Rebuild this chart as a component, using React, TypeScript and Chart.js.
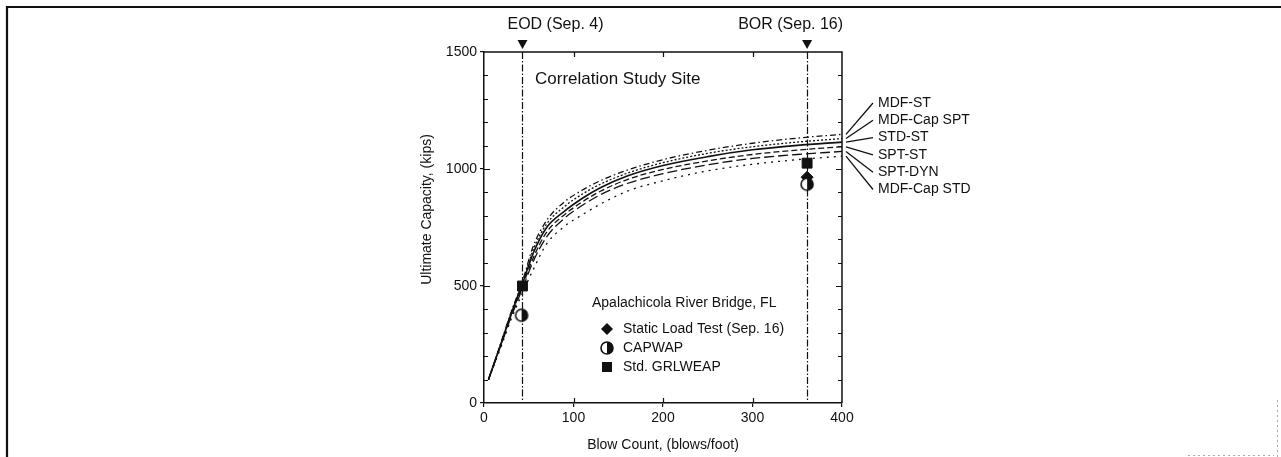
import React, { useEffect, useRef } from "react";
import { Chart, registerables } from "chart.js";

Chart.register(...registerables);

// ---------- data ----------
const blowCount = [5, 20, 30, 43, 55, 70, 90, 110, 130, 160, 200, 250, 300, 350, 400];
const mdfST = [100, 270, 385, 520, 670, 780, 860, 910, 950, 995, 1040, 1080, 1110, 1132, 1148];
const mdfCapSPT = [100, 268, 382, 515, 655, 765, 840, 893, 935, 982, 1027, 1067, 1095, 1115, 1130];
const stdST = [100, 265, 378, 510, 640, 750, 820, 875, 920, 970, 1015, 1053, 1082, 1101, 1115];
const sptST = [100, 262, 372, 500, 620, 730, 805, 860, 905, 955, 998, 1035, 1062, 1081, 1095];
const sptDYN = [100, 258, 365, 490, 605, 710, 790, 845, 890, 938, 980, 1018, 1045, 1062, 1075];
const mdfCapSTD = [100, 250, 355, 470, 570, 680, 755, 805, 850, 905, 950, 992, 1020, 1040, 1055];

const curveLabels = ["MDF-ST", "MDF-Cap SPT", "STD-ST", "SPT-ST", "SPT-DYN", "MDF-Cap STD"];
const curveValues = [mdfST, mdfCapSPT, stdST, sptST, sptDYN, mdfCapSTD];

const staticLoadX = [361];
const staticLoadY = [965];
const capwapX = [42, 361];
const capwapY = [375, 935];
const grlweapX = [43, 361];
const grlweapY = [500, 1025];

const eventX = [43, 361];
const eventLabels = ["EOD (Sep. 4)", "BOR (Sep. 16)"];

const xTicks = [0, 100, 200, 300, 400];
const yTicks = [0, 500, 1000, 1500];

const siteLabel = "Correlation Study Site";
const legendTitle = "Apalachicola River Bridge, FL";
const legendItems = ["Static Load Test (Sep. 16)", "CAPWAP", "Std. GRLWEAP"];
const xTitle = "Blow Count, (blows/foot)";
const yTitle = "Ultimate Capacity, (kips)";

// ---------- styles ----------
const INK = "#111";
const FONT = '"Liberation Sans", Arial, Helvetica, sans-serif';
const curveDashes = [[6, 3, 1.5, 3], [2, 2], [], [6, 3], [10, 4], [2, 5]];

function halfCircle(r: number) {
  const c = document.createElement("canvas");
  const s = Math.ceil(r * 2 + 4);
  c.width = s;
  c.height = s;
  const g = c.getContext("2d")!;
  const m = s / 2;
  g.fillStyle = "#fff";
  g.beginPath();
  g.arc(m, m, r, 0, Math.PI * 2);
  g.fill();
  g.fillStyle = INK;
  g.beginPath();
  g.arc(m, m, r, -Math.PI / 2, Math.PI / 2);
  g.closePath();
  g.fill();
  g.strokeStyle = INK;
  g.lineWidth = 1.6;
  g.beginPath();
  g.arc(m, m, r, 0, Math.PI * 2);
  g.stroke();
  return c;
}

export default function App() {
  const ref = useRef<HTMLCanvasElement | null>(null);

  useEffect(() => {
    if (!ref.current) return;
    const half = halfCircle(6);

    const overlay = {
      id: "overlay",
      beforeDatasetsDraw(chart: any) {
        const { ctx, chartArea: a, scales } = chart;
        const x = scales.x;
        ctx.save();
        ctx.strokeStyle = INK;
        ctx.lineWidth = 1.2;
        ctx.setLineDash([7, 2, 1.5, 2]);
        eventX.forEach((v) => {
          const px = Math.round(x.getPixelForValue(v)) + 0.5;
          ctx.beginPath();
          ctx.moveTo(px, a.top);
          ctx.lineTo(px, a.bottom);
          ctx.stroke();
        });
        ctx.restore();
      },
      afterDraw(chart: any) {
        const { ctx, chartArea: a, scales } = chart;
        const x = scales.x;
        const y = scales.y;
        ctx.save();
        ctx.strokeStyle = INK;
        ctx.fillStyle = INK;
        ctx.setLineDash([]);

        // outer frame (scan border)
        ctx.lineWidth = 2.2;
        ctx.beginPath();
        ctx.moveTo(7, 460);
        ctx.lineTo(7, 7);
        ctx.lineTo(1281, 7);
        ctx.stroke();
        ctx.strokeStyle = "#aaa";
        ctx.lineWidth = 1;
        ctx.setLineDash([2, 3]);
        ctx.beginPath();
        ctx.moveTo(1277.5, 400);
        ctx.lineTo(1277.5, 457);
        ctx.moveTo(1188, 455.5);
        ctx.lineTo(1274, 455.5);
        ctx.stroke();
        ctx.setLineDash([]);
        ctx.strokeStyle = INK;

        // top & right frame of plot
        ctx.lineWidth = 1.5;
        ctx.beginPath();
        ctx.moveTo(a.left, a.top);
        ctx.lineTo(a.right, a.top);
        ctx.lineTo(a.right, a.bottom);
        ctx.stroke();

        // minor / mirrored ticks
        ctx.lineWidth = 1.2;
        ctx.beginPath();
        for (let v = 100; v < 1500; v += 100) {
          const py = Math.round(y.getPixelForValue(v)) + 0.5;
          const len = v % 500 === 0 ? 6 : 4;
          ctx.moveTo(a.left, py);
          ctx.lineTo(a.left + len, py);
          ctx.moveTo(a.right, py);
          ctx.lineTo(a.right - len, py);
        }
        for (let v = 100; v < 400; v += 100) {
          const px = Math.round(x.getPixelForValue(v)) + 0.5;
          ctx.moveTo(px, a.top);
          ctx.lineTo(px, a.top + 5);
          ctx.moveTo(px, a.bottom);
          ctx.lineTo(px, a.bottom - 5);
        }
        ctx.stroke();

        // event markers and labels
        ctx.font = `16px ${FONT}`;
        ctx.textBaseline = "middle";
        eventX.forEach((v, i) => {
          const px = x.getPixelForValue(v);
          ctx.beginPath();
          ctx.moveTo(px - 5, a.top - 12);
          ctx.lineTo(px + 5, a.top - 12);
          ctx.lineTo(px, a.top - 3);
          ctx.closePath();
          ctx.fill();
          if (i === 0) {
            ctx.textAlign = "left";
            ctx.fillText(eventLabels[i], px - 15, a.top - 27);
          } else {
            ctx.textAlign = "right";
            ctx.fillText(eventLabels[i], px + 36, a.top - 27);
          }
        });

        // site label
        ctx.font = `17px ${FONT}`;
        ctx.textAlign = "left";
        ctx.fillText(siteLabel, a.left + 51, a.top + 27);

        // curve labels with leader lines
        ctx.font = `14px ${FONT}`;
        ctx.lineWidth = 1.3;
        curveLabels.forEach((lab, i) => {
          const ly = a.top + 51 + i * 17.3;
          const vals = curveValues[i];
          const ey = y.getPixelForValue(vals[vals.length - 1]);
          ctx.beginPath();
          ctx.moveTo(a.right + 4, ey);
          ctx.lineTo(a.right + 31, ly);
          ctx.stroke();
          ctx.fillText(lab, a.right + 36, ly);
        });

        // legend
        const lx = a.left + 108;
        ctx.font = `14px ${FONT}`;
        ctx.fillText(legendTitle, lx, a.top + 251);
        const rows = [a.top + 277, a.top + 296, a.top + 315];
        const mx = lx + 15;
        ctx.beginPath();
        ctx.moveTo(mx, rows[0] - 6);
        ctx.lineTo(mx + 6, rows[0]);
        ctx.lineTo(mx, rows[0] + 6);
        ctx.lineTo(mx - 6, rows[0]);
        ctx.closePath();
        ctx.fill();
        ctx.drawImage(half, mx - half.width / 2, rows[1] - half.height / 2);
        ctx.fillRect(mx - 5, rows[2] - 5, 10, 10);
        legendItems.forEach((t, i) => ctx.fillText(t, lx + 31, rows[i]));

        // axis titles
        ctx.font = `14px ${FONT}`;
        ctx.textAlign = "center";
        ctx.fillText(xTitle, (a.left + a.right) / 2, a.bottom + 42);
        ctx.save();
        ctx.translate(a.left - 57, (a.top + a.bottom) / 2 - 18);
        ctx.rotate(-Math.PI / 2);
        ctx.fillText(yTitle, 0, 0);
        ctx.restore();

        ctx.restore();
      },
    };

    const pts = (xs: number[], ys: number[]) => xs.map((v, i) => ({ x: v, y: ys[i] }));

    const curveSets = curveValues.map((vals, i) => ({
      label: curveLabels[i],
      data: pts(blowCount, vals),
      showLine: true,
      borderColor: INK,
      borderWidth: i === 2 ? 1.6 : 1.3,
      borderDash: curveDashes[i],
      pointRadius: 0,
      cubicInterpolationMode: "monotone" as const,
      fill: false,
      order: 2,
    }));

    const chart = new Chart(ref.current, {
      type: "scatter",
      data: {
        datasets: [
          ...curveSets,
          {
            label: legendItems[2],
            data: pts(grlweapX, grlweapY),
            pointStyle: "rect",
            pointRadius: 7,
            backgroundColor: INK,
            borderColor: INK,
            borderWidth: 1,
            order: 1,
          },
          {
            label: legendItems[1],
            data: pts(capwapX, capwapY),
            pointStyle: half as any,
            pointRadius: 7,
            order: 0,
          },
          {
            label: legendItems[0],
            data: pts(staticLoadX, staticLoadY),
            pointStyle: "rectRot",
            pointRadius: 6,
            backgroundColor: INK,
            borderColor: INK,
            borderWidth: 1,
            order: 0,
          },
        ] as any,
      },
      options: {
        animation: false,
        responsive: false,
        events: [],
        layout: { padding: { left: 424, right: 439, top: 52, bottom: 0 } },
        plugins: { legend: { display: false }, tooltip: { enabled: false } },
        scales: {
          x: {
            type: "linear",
            min: 0,
            max: 400,
            afterFit: (s: any) => {
              s.height = 54;
            },
            afterBuildTicks: (s: any) => {
              s.ticks = xTicks.map((v) => ({ value: v }));
            },
            grid: { display: true, drawOnChartArea: false, drawTicks: true, tickLength: 4, color: INK, lineWidth: 1.2 },
            border: { display: true, color: INK, width: 1.5 },
            ticks: {
              color: INK,
              font: { family: FONT, size: 14 },
              padding: 3,
              maxRotation: 0,
              callback: (v: any) => String(v),
            },
          },
          y: {
            type: "linear",
            min: 0,
            max: 1500,
            afterFit: (s: any) => {
              s.width = 60;
            },
            afterBuildTicks: (s: any) => {
              s.ticks = yTicks.map((v) => ({ value: v }));
            },
            grid: { display: true, drawOnChartArea: false, drawTicks: true, tickLength: 4, color: INK, lineWidth: 1.2 },
            border: { display: true, color: INK, width: 1.5 },
            ticks: {
              color: INK,
              font: { family: FONT, size: 14 },
              padding: 3,
              callback: (v: any) => String(v),
            },
          },
        },
      },
      plugins: [overlay],
    });
    return () => chart.destroy();
  }, []);

  return (
    <div style={{ position: "absolute", left: 0, top: 0, width: 1281, height: 457, background: "#fff" }}>
      <canvas ref={ref} width={1281} height={457} style={{ display: "block", width: 1281, height: 457 }} />
    </div>
  );
}
